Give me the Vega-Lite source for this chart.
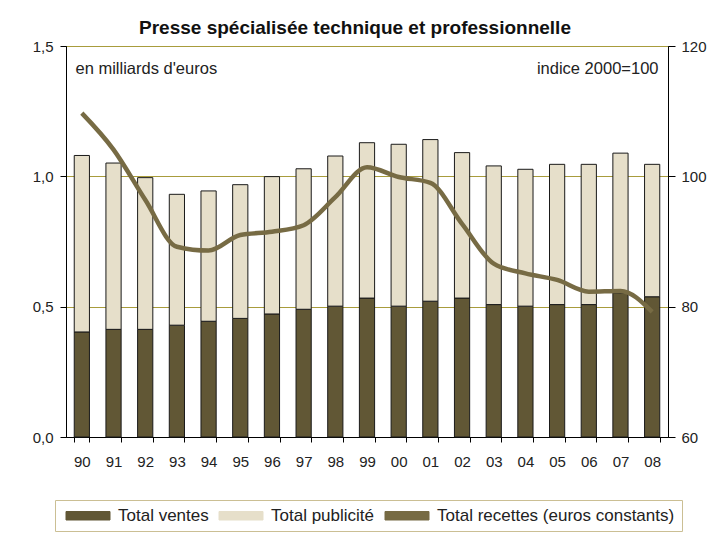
{
  "$schema": "https://vega.github.io/schema/vega-lite/v6.json",
  "autosize": "none",
  "width": 602,
  "height": 391,
  "padding": {"left": 66, "top": 46, "right": 47, "bottom": 96},
  "background": "#ffffff",
  "config": {
    "font": "Liberation Sans",
    "view": {"stroke": "#000000", "strokeWidth": 1},
    "axis": {"labelFont": "Liberation Sans", "labelColor": "#222222", "labelFontSize": 15, "domainColor": "#000000", "tickColor": "#000000", "titleFont": "Liberation Sans"}
  },
  "title": {"text": "Presse spécialisée technique et professionnelle", "fontSize": 19, "fontWeight": "bold", "color": "#111111", "anchor": "middle", "offset": 1, "dx": -12, "font": "Liberation Sans"},
  "data": {"values": [
    {"annee": "90", "Total ventes": 0.403, "Total publicité": 0.677, "indice": 109.7},
    {"annee": "91", "Total ventes": 0.413, "Total publicité": 0.638, "indice": 104.1},
    {"annee": "92", "Total ventes": 0.413, "Total publicité": 0.582, "indice": 96.4},
    {"annee": "93", "Total ventes": 0.429, "Total publicité": 0.502, "indice": 89.2},
    {"annee": "94", "Total ventes": 0.444, "Total publicité": 0.500, "indice": 88.6},
    {"annee": "95", "Total ventes": 0.455, "Total publicité": 0.513, "indice": 91.0},
    {"annee": "96", "Total ventes": 0.472, "Total publicité": 0.527, "indice": 91.5},
    {"annee": "97", "Total ventes": 0.490, "Total publicité": 0.539, "indice": 92.5},
    {"annee": "98", "Total ventes": 0.502, "Total publicité": 0.576, "indice": 96.8},
    {"annee": "99", "Total ventes": 0.533, "Total publicité": 0.596, "indice": 101.4},
    {"annee": "00", "Total ventes": 0.502, "Total publicité": 0.621, "indice": 99.9},
    {"annee": "01", "Total ventes": 0.521, "Total publicité": 0.620, "indice": 99.0},
    {"annee": "02", "Total ventes": 0.533, "Total publicité": 0.558, "indice": 92.7},
    {"annee": "03", "Total ventes": 0.508, "Total publicité": 0.532, "indice": 86.6},
    {"annee": "04", "Total ventes": 0.502, "Total publicité": 0.525, "indice": 85.1},
    {"annee": "05", "Total ventes": 0.508, "Total publicité": 0.538, "indice": 84.1},
    {"annee": "06", "Total ventes": 0.508, "Total publicité": 0.538, "indice": 82.3},
    {"annee": "07", "Total ventes": 0.553, "Total publicité": 0.536, "indice": 82.4},
    {"annee": "08", "Total ventes": 0.538, "Total publicité": 0.508, "indice": 79.2}
  ]},
  "encoding": {
    "x": {
      "field": "annee", "type": "ordinal", "sort": null,
      "scale": {"paddingInner": 0.52, "paddingOuter": 0.26},
      "axis": {"title": null, "labelAngle": 0, "tickBand": "extent", "tickSize": 5, "labelPadding": 12, "labelFontSize": 15, "domainColor": "#000000"}
    }
  },
  "layer": [
    {
      "transform": [{"fold": ["Total ventes", "Total publicité"], "as": ["serie", "valeur"]}],
      "mark": {"type": "bar", "stroke": "#1a1a1a", "strokeWidth": 1},
      "encoding": {
        "y": {
          "field": "valeur", "type": "quantitative", "stack": "zero",
          "scale": {"domain": [0, 1.5], "nice": false},
          "axis": {
            "values": [0, 0.5, 1, 1.5], "labelExpr": "replace(format(datum.value, '.1f'), '.', ',')",
            "grid": true, "gridColor": "#a89c3c", "gridWidth": 1, "tickSize": 6, "labelPadding": 7,
            "title": "en milliards d'euros", "titleAngle": 0, "titleAlign": "left", "titleBaseline": "middle",
            "titleX": 9, "titleY": 22, "titleFontSize": 16.5, "titleFontWeight": "normal", "titleColor": "#222222"
          }
        },
        "color": {
          "field": "serie", "type": "nominal",
          "scale": {"domain": ["Total ventes", "Total publicité", "Total recettes (euros constants)"], "range": ["#615735", "#e6dfca", "#776b44"]},
          "legend": {
            "title": null, "orient": "none", "direction": "horizontal", "legendX": -11, "legendY": 454,
            "labelFontSize": 17, "labelColor": "#222222", "labelLimit": 400, "labelOffset": 39, "columnPadding": 6,
            "symbolSize": 100, "symbolStrokeWidth": 1, "symbolStrokeColor": "#333333", "symbolType": "M-0.9,-0.85H7.9V0.85H-0.9Z",
            "padding": 7, "strokeColor": "#cbbf94", "fillColor": "#ffffff"
          }
        },
        "order": {"field": "serie", "sort": "descending"}
      }
    },
    {
      "mark": {"type": "line", "strokeWidth": 4.5, "interpolate": "monotone"},
      "encoding": {
        "y": {
          "field": "indice", "type": "quantitative",
          "scale": {"domain": [60, 120], "nice": false},
          "axis": {
            "orient": "right", "values": [60, 80, 100, 120], "grid": false, "tickSize": 7, "labelPadding": 6,
            "title": "indice 2000=100", "titleAngle": 0, "titleAlign": "right", "titleBaseline": "middle",
            "titleX": -10, "titleY": 22, "titleFontSize": 16.5, "titleFontWeight": "normal", "titleColor": "#222222"
          }
        },
        "color": {"datum": "Total recettes (euros constants)", "legend": null}
      }
    }
  ],
  "resolve": {"scale": {"y": "independent"}}
}
